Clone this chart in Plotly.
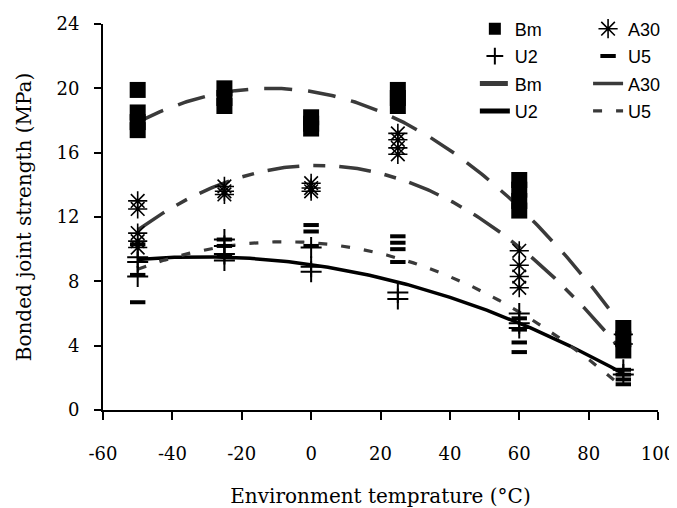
import numpy as np
import plotly.graph_objects as go

# ---- data ----
temps = [-50, -25, 0, 25, 60, 90]

bm_vals = {
    -50: [19.9, 18.5, 17.9, 17.4],
    -25: [20.0, 19.4, 18.9],
    0: [18.2, 17.8, 17.5],
    25: [19.9, 19.4, 18.9],
    60: [14.3, 13.7, 13.0, 12.4],
    90: [5.1, 4.4, 3.7],
}
a30_vals = {
    -50: [13.0, 12.5, 11.0, 10.5, 10.1],
    -25: [13.9, 13.6, 13.4],
    0: [14.1, 13.8, 13.6],
    25: [17.2, 16.8, 16.3, 15.9],
    60: [9.9, 9.0, 8.3, 7.6],
    90: [4.7, 4.1],
}
u2_vals = {
    -50: [9.5, 9.2, 8.3],
    -25: [10.6, 10.2, 9.7, 9.3],
    0: [10.1, 8.9, 8.6],
    25: [7.3, 6.9],
    60: [6.0, 5.4, 5.1],
    90: [2.5, 2.2],
}
u5_vals = {
    -50: [10.3, 8.4, 6.7],
    -25: [10.6, 10.2, 9.6],
    0: [11.5, 11.1, 10.2],
    25: [10.8, 10.4, 10.0, 9.2],
    60: [5.7, 5.0, 4.2, 3.6],
    90: [2.5, 2.2, 1.9, 1.6],
}

series_names = ["Bm", "A30", "U2", "U5"]
x_ticks = [-60, -40, -20, 0, 20, 40, 60, 80, 100]
y_ticks = [0, 4, 8, 12, 16, 20, 24]


def flatten(d):
    xs, ys = [], []
    for t in temps:
        for v in d[t]:
            xs.append(t)
            ys.append(v)
    return np.array(xs, float), np.array(ys, float)


SERIF = "DejaVu Serif"
SANS = "Liberation Sans"

fig = go.Figure()

marker_styles = {
    "Bm": dict(symbol="square", size=16, color="black", line=dict(width=0)),
    "A30": dict(symbol="asterisk-open", size=16, color="black", line=dict(width=1.6, color="black")),
    "U2": dict(symbol="cross-thin-open", size=15, color="black", line=dict(width=2, color="black")),
    "U5": dict(symbol="line-ew-open", size=11, color="black", line=dict(width=4, color="black")),
}
line_styles = {
    "Bm": dict(color="#3a3a3a", width=3.5, dash="28px,16px"),
    "A30": dict(color="#3a3a3a", width=3.5, dash="32px,14px,12px,14px"),
    "U2": dict(color="black", width=3.5, dash="solid"),
    "U5": dict(color="#3a3a3a", width=3.2, dash="9px,14px"),
}
legend_of = {"Bm": "legend", "U2": "legend", "A30": "legend2", "U5": "legend2"}
rank_of = {"Bm": 1, "U2": 2, "A30": 1, "U5": 2}
data_of = {"Bm": bm_vals, "A30": a30_vals, "U2": u2_vals, "U5": u5_vals}

# trend lines (2nd-order polynomial fits of each series)
for name in series_names:
    xs, ys = flatten(data_of[name])
    coef = np.polyfit(xs, ys, 2)
    xf = np.linspace(min(temps), max(temps), 200)
    yf = np.polyval(coef, xf)
    fig.add_trace(go.Scatter(
        x=xf, y=yf, mode="lines", name=name, line=line_styles[name],
        legend=legend_of[name], legendrank=rank_of[name] + 2,
        legendgroup=name + "_line", hoverinfo="skip",
    ))

for name in series_names:
    xs, ys = flatten(data_of[name])
    fig.add_trace(go.Scatter(
        x=xs, y=ys, mode="markers", name=name, marker=marker_styles[name],
        legend=legend_of[name], legendrank=rank_of[name],
        legendgroup=name + "_pts",
    ))

legend_common = dict(
    font=dict(family=SANS, size=18, color="black"),
    bgcolor="rgba(0,0,0,0)", borderwidth=0,
    traceorder="grouped", tracegroupgap=1,
    xanchor="left", yanchor="top",
)

# page body has an 8px default margin, so the figure is 8px smaller each way
fig.update_layout(
    width=669, height=500,
    margin=dict(l=95, r=19, t=16, b=98, autoexpand=False),
    paper_bgcolor="white", plot_bgcolor="white",
    font=dict(family=SERIF, size=17, color="black"),
    legend=dict(x=0.67, y=1.035, itemsizing="constant", **legend_common),
    legend2=dict(x=0.874, y=1.035, itemsizing="trace", **legend_common),
    xaxis=dict(
        range=[-60, 100], tickvals=x_ticks, ticktext=[str(v) for v in x_ticks],
        showline=True, linecolor="black", linewidth=2,
        ticks="outside", ticklen=8, tickwidth=2, tickcolor="black",
        showgrid=False, zeroline=False, ticklabelstandoff=18,
        tickfont=dict(family=SERIF, size=18),
        title=dict(text="Environment temprature (°C)", font=dict(family=SERIF, size=20), standoff=30),
    ),
    yaxis=dict(
        range=[0, 24], tickvals=y_ticks, ticktext=[str(v) for v in y_ticks],
        showline=True, linecolor="black", linewidth=2,
        ticks="outside", ticklen=7, tickwidth=2, tickcolor="black",
        showgrid=False, zeroline=False, ticklabelstandoff=11,
        tickfont=dict(family=SERIF, size=18),
        title=dict(text="Bonded joint strength (MPa)", font=dict(family=SERIF, size=20), standoff=19),
    ),
)

fig.write_html("out.html")
